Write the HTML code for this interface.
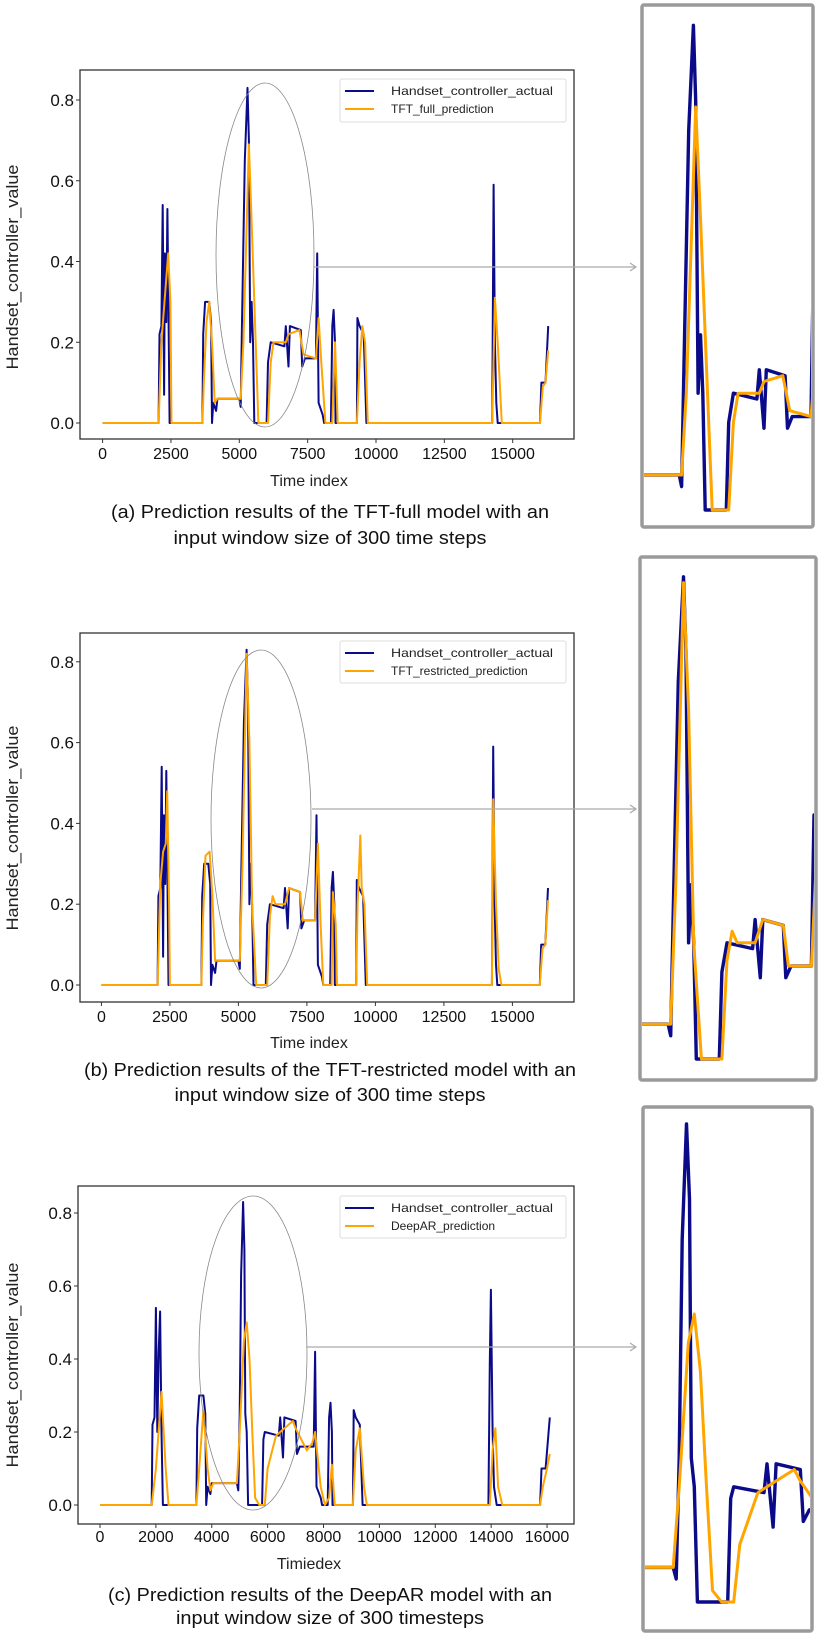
<!DOCTYPE html>
<html><head><meta charset="utf-8"><style>
html,body{margin:0;padding:0;background:#fff;}
svg{display:block;font-family:"Liberation Sans",sans-serif;}
</style></head><body>
<svg id="fig" width="821" height="1637" viewBox="0 0 821 1637" xmlns="http://www.w3.org/2000/svg"></svg>
<script>
// ---- data (time index, value) ----
const actualT = [0,2050,2080,2150,2200,2250,2280,2330,2370,2420,2450,3650,3680,3750,3900,3970,4000,4050,4150,4200,5000,5050,5100,5200,5300,5350,5400,5450,5500,5550,6000,6050,6150,6650,6700,6800,6850,7250,7300,7400,7800,7850,7900,8050,8100,8350,8400,8450,8500,8520,9300,9320,9400,9550,9650,14250,14300,14350,14400,14450,16000,16050,16200,16300];
const actualV = [0,0,0.22,0.24,0.54,0.07,0.42,0.25,0.53,0.2,0,0,0.22,0.30,0.30,0.25,0,0.05,0.03,0.06,0.06,0.04,0.25,0.65,0.83,0.7,0.2,0.3,0.2,0,0,0.15,0.2,0.19,0.24,0.14,0.24,0.23,0.14,0.16,0.16,0.42,0.05,0.02,0,0,0.24,0.28,0.2,0,0,0.26,0.24,0.22,0,0,0.59,0.2,0.05,0,0,0.1,0.1,0.24];
const fullT = [0,2050,2150,2400,2480,2520,3650,3700,3800,3900,4000,4100,4200,5050,5150,5350,5450,5700,6050,6150,6250,6700,6800,7200,7350,7800,7900,8000,8150,8400,8500,8600,9300,9400,9500,9600,9700,14250,14350,14450,14600,16000,16100,16200,16300];
const fullV = [0,0,0.2,0.42,0.3,0,0,0.1,0.25,0.3,0.2,0.05,0.06,0.06,0.2,0.69,0.5,0,0,0.15,0.2,0.2,0.22,0.23,0.17,0.16,0.26,0.15,0,0,0.2,0,0,0.15,0.24,0.2,0,0,0.31,0.2,0,0,0.09,0.1,0.18];
const restT = [0,2050,2150,2250,2350,2400,2470,2500,3650,3700,3800,3950,4050,4150,5050,5150,5300,5400,5500,5650,6050,6150,6250,6350,6700,6850,7250,7350,7800,7900,8000,8100,8400,8450,8550,8600,9300,9350,9450,9500,9600,9700,14250,14300,14400,14500,14600,16000,16100,16200,16300];
const restV = [0,0,0.25,0.33,0.35,0.48,0.2,0,0,0.15,0.32,0.33,0.22,0.06,0.06,0.3,0.82,0.6,0.2,0,0,0.17,0.22,0.2,0.2,0.24,0.23,0.16,0.16,0.35,0.15,0,0,0.23,0.15,0,0,0.2,0.37,0.24,0.2,0,0,0.46,0.2,0.04,0,0,0.09,0.1,0.21];
const actualCT = [0,1850,1880,1950,2000,2050,2100,2150,2200,2250,3450,3480,3550,3700,3770,3800,3850,3950,4000,4900,4950,5000,5050,5120,5170,5200,5250,5300,5800,5850,5900,6400,6450,6550,6600,7000,7050,7150,7650,7700,7750,7900,7950,8150,8200,8250,8300,8320,9050,9080,9150,9300,9400,13900,13950,13990,14050,14100,14200,15750,15800,15950,16100];
const actualCV = [0,0,0.22,0.24,0.54,0.2,0.42,0.53,0.2,0,0,0.21,0.3,0.3,0.25,0,0.05,0.03,0.06,0.06,0.04,0.25,0.63,0.83,0.7,0.25,0.2,0,0,0.18,0.2,0.19,0.24,0.13,0.24,0.23,0.14,0.16,0.16,0.42,0.05,0.02,0,0,0.24,0.28,0.2,0,0,0.26,0.24,0.22,0,0,0.39,0.59,0.2,0.05,0,0,0.1,0.1,0.24];
const deepT = [0,1850,2000,2200,2350,2450,3450,3550,3700,3850,3950,4050,4900,5000,5150,5250,5350,5450,5550,5700,5900,6000,6300,6600,6900,7000,7400,7600,7700,7900,8050,8200,8300,8400,9050,9150,9300,9450,9550,13950,14050,14150,14250,14400,15750,15850,16000,16100];
const deepV = [0,0,0.1,0.31,0.1,0,0,0.1,0.26,0.1,0.04,0.06,0.06,0.2,0.45,0.5,0.4,0.2,0.02,0,0,0.1,0.19,0.21,0.23,0.21,0.15,0.17,0.2,0.05,0,0.02,0.11,0,0,0.15,0.21,0.05,0,0,0.15,0.21,0.05,0,0,0.05,0.1,0.14];
const yTicks = [0,0.2,0.4,0.6,0.8];
const yTickLabels = ["0.0","0.2","0.4","0.6","0.8"];
const xTicksAB = [0,2500,5000,7500,10000,12500,15000];
const xTicksC = [0,2000,4000,6000,8000,10000,12000,14000,16000];

const NS="http://www.w3.org/2000/svg";
const svg=document.getElementById('fig');
function mk(tag,attrs,parent){const e=document.createElementNS(NS,tag);for(const k in attrs)e.setAttribute(k,attrs[k]);(parent||svg).appendChild(e);return e;}
function txt(s,attrs,parent){const e=mk('text',attrs,parent);e.textContent=s;return e;}
const NAVY="#0b0b8a", ORANGE="#ffa500";

const panels=[
 {id:'a',box:[80,70,574,439],x0:102.6,kx:0.02734,y0:423,ky:403.75,ticks:xTicksAB,
  xl:'Time index',xlY:486,tickY:459,ylC:267,legend:[340,79,566,122],predName:'TFT_full_prediction',
  ell:[265,255,49,172],arrowY:267,arrowX0:314,
  zoom:[642,5,813,527],zr:[4250,7800],zy0:510,zky:584,
  cap:['(a) Prediction results of the TFT-full model with an','input window size of 300 time steps'],capY:[518,544],capW:[438,313],
  aT:actualT,aV:actualV,pT:fullT,pV:fullV},
 {id:'b',box:[80,633,574,1002],x0:101.4,kx:0.0274,y0:985,ky:404,ticks:xTicksAB,
  xl:'Time index',xlY:1048,tickY:1022,ylC:828,legend:[340,641,566,683],predName:'TFT_restricted_prediction',
  ell:[261,819,50,169],arrowY:809,arrowX0:312,
  zoom:[640,557,816,1080],zr:[4490,7850],zy0:1059,zky:581,
  cap:['(b) Prediction results of the TFT-restricted model with an','input window size of 300 time steps'],capY:[1076,1101],capW:[492,311],
  aT:actualT,aV:actualV,pT:restT,pV:restV},
 {id:'c',box:[78,1186,574,1524],x0:100,kx:0.02794,y0:1505,ky:365,ticks:xTicksC,
  xl:'Timiedex',xlY:1569,tickY:1542,ylC:1365,legend:[340,1196,566,1238],predName:'DeepAR_prediction',
  ell:[253,1353,54,157],arrowY:1347,arrowX0:306,
  zoom:[643,1107,812,1631],zr:[4435,7160],zy0:1602,zky:576,
  cap:['(c) Prediction results of the DeepAR model with an','input window size of 300 timesteps'],capY:[1601,1624],capW:[444,308],
  aT:actualCT,aV:actualCV,pT:deepT,pV:deepV}
];

panels.forEach(p=>{
  const g=mk('g',{});
  
  
  const [bx0,by0,bx1,by1]=p.box;
  const X=t=>p.x0+t*p.kx, Y=v=>p.y0-v*p.ky;
  const cid='clip'+p.id;
  const cp=mk('clipPath',{id:cid},g); mk('rect',{x:bx0,y:by0,width:bx1-bx0,height:by1-by0},cp);
  function line(T,V,col,w,name,Xf,Yf,clip){
    let d=''; T.forEach((t,i)=>{d+=(i?'L':'M')+Xf(t).toFixed(1)+','+Yf(V[i]).toFixed(1);});
    const e=mk('path',{d:d,fill:'none',stroke:col,'stroke-width':w,'stroke-linejoin':'round','clip-path':'url(#'+clip+')'},g);
    
    
  }
  line(p.aT,p.aV,NAVY,2,'actual-line-'+p.id,X,Y,cid);
  line(p.pT,p.pV,ORANGE,2,'prediction-line-'+p.id,X,Y,cid);
  const frame=mk('rect',{x:bx0,y:by0,width:bx1-bx0,height:by1-by0,fill:'none',stroke:'#333','stroke-width':1.3},g);
  
  
  yTicks.forEach((v,i)=>{
    mk('line',{x1:bx0-4,x2:bx0,y1:Y(v),y2:Y(v),stroke:'#333'},g);
    const t=txt(yTickLabels[i],{x:bx0-6,y:Y(v)+6,'text-anchor':'end','font-size':17,fill:'#111'},g);
    
    
  });
  p.ticks.forEach(v=>{
    mk('line',{x1:X(v),x2:X(v),y1:by1,y2:by1+4,stroke:'#333'},g);
    const t=txt(String(v),{x:X(v),y:p.tickY,'text-anchor':'middle','font-size':16,fill:'#111'},g);
    
    
  });
  const xl=txt(p.xl,{x:309,y:p.xlY,'text-anchor':'middle','font-size':16,fill:'#222'},g);
  
  
  const yl=txt('Handset_controller_value',{x:0,y:0,'text-anchor':'middle','font-size':17,fill:'#222',textLength:205,lengthAdjust:'spacingAndGlyphs',transform:'translate(18,'+p.ylC+') rotate(-90)'},g);
  
  
  // legend
  const [lx0,ly0,lx1,ly1]=p.legend;
  const lg=mk('g',{},g);
  
  
  mk('rect',{x:lx0,y:ly0,width:lx1-lx0,height:ly1-ly0,fill:'#fff',stroke:'#ddd','stroke-width':1,rx:2},lg);
  const r1=ly0+12, r2=ly0+30;
  mk('line',{x1:lx0+5,x2:lx0+34,y1:r1,y2:r1,stroke:NAVY,'stroke-width':2},lg);
  mk('line',{x1:lx0+5,x2:lx0+34,y1:r2,y2:r2,stroke:ORANGE,'stroke-width':2},lg);
  const le1=txt('Handset_controller_actual',{x:lx0+51,y:r1+4,'font-size':12,fill:'#222',textLength:162,lengthAdjust:'spacingAndGlyphs'},lg);
  
  
  const le2=txt(p.predName,{x:lx0+51,y:r2+4,'font-size':12,fill:'#222'},lg);
  
  
  // ellipse + arrow
  const el=mk('ellipse',{cx:p.ell[0],cy:p.ell[1],rx:p.ell[2],ry:p.ell[3],fill:'none',stroke:'#888','stroke-width':0.8},g);
  
  
  const ar=mk('path',{d:'M'+p.arrowX0+','+p.arrowY+'H636 M630,'+(p.arrowY-4)+'L636,'+p.arrowY+'L630,'+(p.arrowY+4),fill:'none',stroke:'#aaa','stroke-width':1.2},g);
  
  
  // zoom inset
  const [zx0,zy0,zx1,zy1]=p.zoom;
  const zc='zclip'+p.id;
  const zcp=mk('clipPath',{id:zc},g); mk('rect',{x:zx0+2,y:zy0+2,width:zx1-zx0-4,height:zy1-zy0-4},zcp);
  const ZX=t=>zx0+2+(t-p.zr[0])/(p.zr[1]-p.zr[0])*(zx1-zx0-4), ZY=v=>p.zy0-v*p.zky;
  line(p.aT,p.aV,NAVY,3.4,'zoom-actual-line-'+p.id,ZX,ZY,zc);
  line(p.pT,p.pV,ORANGE,3,'zoom-prediction-line-'+p.id,ZX,ZY,zc);
  const zb=mk('rect',{x:zx0,y:zy0,width:zx1-zx0,height:zy1-zy0,fill:'none',stroke:'#9a9a9a','stroke-width':3.5,rx:2},g);
  
  
  // caption
  p.cap.forEach((s,i)=>{
    const c=txt(s,{x:330,y:p.capY[i],'text-anchor':'middle','font-size':18,fill:'#111',textLength:p.capW[i],lengthAdjust:'spacingAndGlyphs'},g);
    
    
  });
});
</script>
</body></html>
